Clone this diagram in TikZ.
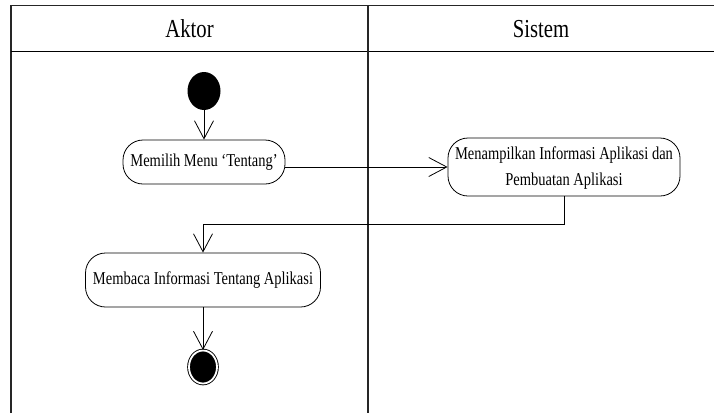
\documentclass[tikz,border=0pt]{standalone}
\usepackage{fontspec}
\setmainfont{Liberation Serif}
\usepackage{graphicx}
\usetikzlibrary{arrows.meta,shapes.geometric}
% tall, narrow lettering
\newcommand{\tallbox}[1]{\scalebox{1}[1.25]{#1}}
\tikzset{
  frame/.style={line width=1.3pt, draw=black!85},
  lane/.style={line width=1pt},
  activity/.style={draw, line width=0.8pt, rounded corners=20pt, inner sep=0pt,
    font=\fontsize{14.5}{20.8}\selectfont},
  startstate/.style={ellipse, fill=black, inner sep=0pt, minimum width=33pt, minimum height=38pt},
  endstate/.style={ellipse, draw=black, fill=black, double=white, double distance=1.8pt,
    line width=0.9pt, inner sep=0pt, minimum width=28pt, minimum height=33pt},
  flow/.style={line width=0.8pt, -{Straight Barb[length=18pt, width=19pt, line width=0.8pt]}},
  lanetitle/.style={font=\fontsize{20.7}{24}\selectfont, inner sep=0pt}
}
\begin{document}
\begin{tikzpicture}[x=1pt, y=-1pt]
  \useasboundingbox (0,0) rectangle (714,413);
  % swimlane frame
  \draw[frame] (11,413) -- (11,5.5) -- (714,5.5);
  \draw[lane] (11,51) -- (714,51);
  \draw[frame] (368,5.5) -- (368,413);
  \node[lanetitle] (laneA) at (189.5,29) {\tallbox{Aktor}};
  \node[lanetitle] (laneS) at (541,29) {\tallbox{Sistem}};

  % states and activities
  \node[startstate] (start) at (204,91) {};
  \node[activity, minimum width=162pt, minimum height=44pt] (a1) at (204,162)
    {\tallbox{Memilih Menu ‘Tentang’}};
  \node[activity, minimum width=232pt, minimum height=58pt] (a2) at (564,167)
    {\tallbox{\begin{tabular}{@{}c@{}}Menampilkan Informasi Aplikasi dan\\Pembuatan Aplikasi\end{tabular}}};
  \node[activity, minimum width=235pt, minimum height=54pt] (a3) at (203,280)
    {\tallbox{Membaca Informasi Tentang Aplikasi}};
  \node[endstate] (end) at (203,367) {};

  % bend points of the return flow
  \coordinate (j1) at (564,224);
  \coordinate (j2) at (203,224);

  % flows
  \draw[flow] (start) -- (a1);
  \draw[flow] (a2.west -| a1.east) -- (a2.west);
  \draw[flow] (a2.south) -- (j1) -- (j2) -- (a3.north);
  \draw[flow] (a3) -- (end);
\end{tikzpicture}
\end{document}
